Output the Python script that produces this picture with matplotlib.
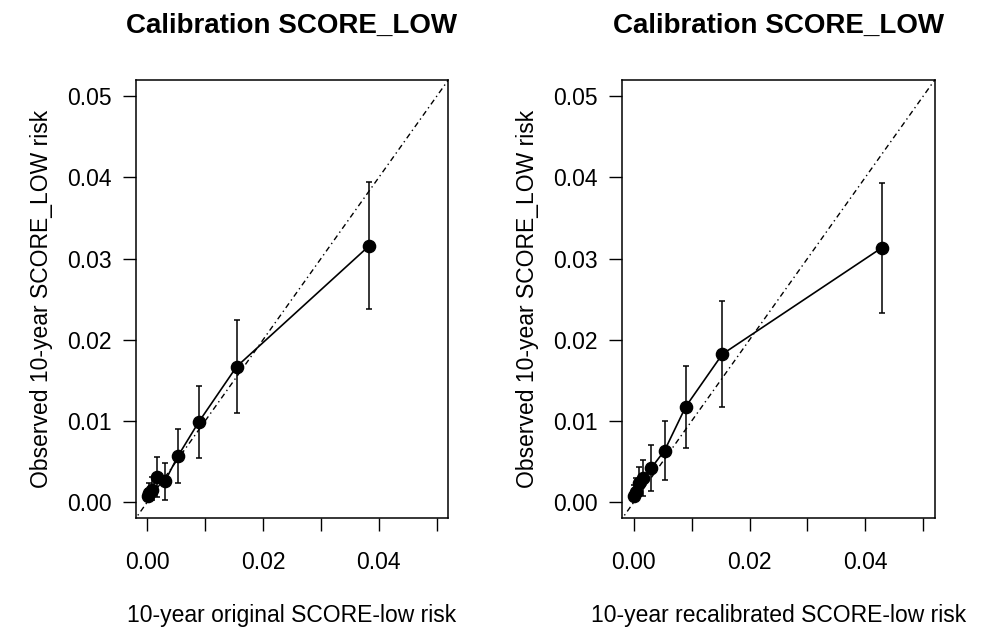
import numpy as np
import matplotlib
matplotlib.use("Agg")
from matplotlib import pyplot as plt

plt.rcParams['font.family'] = ['Liberation Sans', 'DejaVu Sans']

# data
titles = ["Calibration SCORE_LOW", "Calibration SCORE_LOW"]
xlabels = ["10-year original SCORE-low risk", "10-year recalibrated SCORE-low risk"]
ylabel = "Observed 10-year SCORE_LOW risk"

pred_orig = [0.0001, 0.0003, 0.00075, 0.0016, 0.00303, 0.00532, 0.00886, 0.01543, 0.0383]
obs_orig = [0.0007, 0.0011, 0.0015, 0.00307, 0.00254, 0.00569, 0.00983, 0.01668, 0.03155]
lo_orig = [0.0002, 0.0003, 0.0003, 0.0006, 0.00028, 0.00233, 0.0054, 0.01094, 0.02373]
hi_orig = [0.0016, 0.0024, 0.0031, 0.0055, 0.0048, 0.0090, 0.0143, 0.02242, 0.0394]

pred_recal = [0.0001, 0.0003, 0.00086, 0.0016, 0.00303, 0.00531, 0.00897, 0.01531, 0.0429]
obs_recal = [0.0008, 0.0012, 0.00233, 0.0030, 0.00422, 0.00635, 0.01176, 0.01823, 0.03135]
lo_recal = [0.0002, 0.0004, 0.0008, 0.00074, 0.00135, 0.00266, 0.00668, 0.01168, 0.02327]
hi_recal = [0.0021, 0.0030, 0.0043, 0.0052, 0.00708, 0.01004, 0.0168, 0.02479, 0.0393]

xticks = [0.0, 0.01, 0.02, 0.03, 0.04, 0.05]
xticklabels = ["0.00", "", "0.02", "", "0.04", ""]
yticks = [0.0, 0.01, 0.02, 0.03, 0.04, 0.05]
yticklabels = ["0.00", "0.01", "0.02", "0.03", "0.04", "0.05"]

W, H = 998, 632
fig = plt.figure(figsize=(W / 100, H / 100), dpi=100)

# axes boxes in pixels: left, right, top, bottom
boxes = [(135.7, 448.3, 80, 518.3), (622.3, 934.7, 80, 518.3)]
panels = [(pred_orig, obs_orig, lo_orig, hi_orig), (pred_recal, obs_recal, lo_recal, hi_recal)]

for i in range(2):
    l, r, t, b = boxes[i]
    ax = fig.add_axes([l / W, 1 - b / H, (r - l) / W, (b - t) / H])
    x, y, lo, hi = [np.array(v) for v in panels[i]]

    ax.plot([-0.01, 0.06], [-0.01, 0.06], color='black', lw=1,
            linestyle=(0, (1, 2.5, 4, 2.5)))
    ax.errorbar(x, y, yerr=[y - lo, hi - y], fmt='none', ecolor='black',
                elinewidth=1.1, capsize=2.5, capthick=1.1)
    ax.plot(x, y, color='black', lw=1.2, marker='o', markersize=8.8)

    ax.set_xlim(-0.002, 0.052)
    ax.set_ylim(-0.002, 0.052)
    ax.set_xticks(xticks)
    ax.set_xticklabels(xticklabels)
    ax.set_yticks(yticks)
    ax.set_yticklabels(yticklabels)
    ax.tick_params(axis='both', direction='out', length=9.5, width=1,
                   labelsize=16.5, color='black')
    ax.tick_params(axis='x', pad=14)
    ax.tick_params(axis='y', pad=8)
    for s in ax.spines.values():
        s.set_linewidth(1.1)

    ax.set_title(titles[i], fontsize=20, fontweight='bold', pad=34)
    ax.set_xlabel(xlabels[i], fontsize=16.5, labelpad=22)
    ax.set_ylabel(ylabel, fontsize=16.5, labelpad=10)

fig.savefig("out.png", dpi=100)
